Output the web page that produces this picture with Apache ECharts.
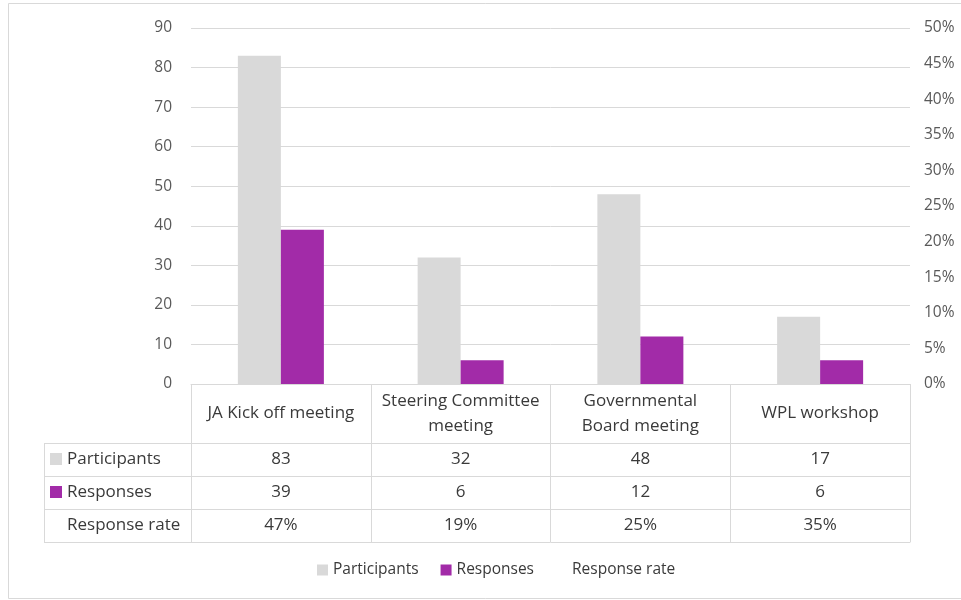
<!DOCTYPE html>
<html>
<head>
<meta charset="utf-8">
<script src="https://cdn.jsdelivr.net/npm/echarts@6/dist/echarts.min.js"></script>
<style>
html,body{margin:0;padding:0;background:#fff;}
#chart{width:961px;height:600px;}
</style>
</head>
<body>
<div id="chart"></div>
<script>
const categories = ['JA Kick off meeting', 'Steering Committee\nmeeting', 'Governmental\nBoard meeting', 'WPL workshop'];
const participants = [83, 32, 48, 17];
const responses = [39, 6, 12, 6];
const responseRate = [0.47, 0.19, 0.25, 0.35];
const leftTicks = { min: 0, max: 90, interval: 10 };
const rightTicks = { min: 0, max: 0.5, interval: 0.05 };

const FONT = '"Open Sans", sans-serif';
const GRAY = '#D9D9D9';
const PURPLE = '#A22BA8';
const LINE = '#D9D9D9';
const TXT = '#3A3A3A';
const TFS = 17;

// layout
const G = { left: 191, right: 51, top: 28, bottom: 216 };
const plotBottom = 600 - G.bottom;          // 384
const HEAD_H = 59, ROW_H = 33, TABLE_LEFT = 44;
const rowTop0 = plotBottom + HEAD_H;

function tableAxis(offset, tickLen, labels, margin, fs) {
  return {
    type: 'category', data: categories, gridIndex: 0, position: 'bottom', offset: offset,
    boundaryGap: true,
    axisLine: { show: true, onZero: false, lineStyle: { color: LINE, width: 1 } },
    axisTick: { show: tickLen > 0, length: tickLen, interval: 0, lineStyle: { color: LINE, width: 1 } },
    axisLabel: {
      show: !!labels, interval: 0, margin: margin, verticalAlign: 'middle',
      color: TXT, fontFamily: FONT, fontSize: fs, lineHeight: 25,
      formatter: labels ? (v, i) => String(labels[i]) : ''
    },
    splitLine: { show: false }
  };
}

const rateLabels = responseRate.map(v => Math.round(v * 100) + '%');

const chart = echarts.init(document.getElementById('chart'), null, { renderer: 'canvas' });
const rowNames = ['Participants', 'Responses', 'Response rate'];
const rowColors = [GRAY, PURPLE, null];

const graphics = [
  { type: 'rect', shape: { x: 8.5, y: 3.5, width: 970, height: 595 }, style: { fill: 'none', stroke: '#D9D9D9', lineWidth: 1 }, silent: true, z: -10 },
  { type: 'line', shape: { x1: TABLE_LEFT + 0.5, y1: rowTop0, x2: TABLE_LEFT + 0.5, y2: rowTop0 + 3 * ROW_H }, style: { stroke: LINE, lineWidth: 1 }, silent: true }
];
for (let r = 0; r <= 3; r++) {
  const y = Math.round(rowTop0 + r * ROW_H) + 0.5;
  graphics.push({ type: 'line', shape: { x1: TABLE_LEFT, y1: y, x2: G.left, y2: y }, style: { stroke: LINE, lineWidth: 1 }, silent: true });
}
rowNames.forEach((n, r) => {
  const cy = rowTop0 + r * ROW_H + ROW_H / 2;
  if (rowColors[r]) graphics.push({ type: 'rect', shape: { x: 50, y: cy - 6.5, width: 12, height: 12 }, style: { fill: rowColors[r] }, silent: true });
  graphics.push({ type: 'text', style: { text: n, x: 67, y: cy, verticalAlign: 'middle', fill: TXT, font: TFS + 'px ' + FONT }, silent: true });
});

chart.setOption({
  animation: false,
  backgroundColor: '#fff',
  grid: { left: G.left, right: G.right, top: G.top, bottom: G.bottom, containLabel: false },
  legend: {
    bottom: 17, left: 312,
    itemWidth: 11, itemHeight: 11, itemGap: 22,
    textStyle: { color: TXT, fontFamily: FONT, fontSize: 15.5 },
    data: [
      { name: 'Participants', icon: 'rect' },
      { name: 'Responses', icon: 'rect' },
      { name: 'Response rate', icon: 'rect', itemStyle: { opacity: 0 } }
    ]
  },
  xAxis: [
    tableAxis(0, HEAD_H, categories.map(c => c), HEAD_H / 2, TFS),
    tableAxis(HEAD_H, ROW_H, participants, ROW_H / 2, TFS),
    tableAxis(HEAD_H + ROW_H, ROW_H, responses, ROW_H / 2, TFS),
    tableAxis(HEAD_H + 2 * ROW_H, ROW_H, rateLabels, ROW_H / 2, TFS),
    tableAxis(HEAD_H + 3 * ROW_H, 0, null, 0, TFS)
  ],
  yAxis: [
    {
      type: 'value', min: leftTicks.min, max: leftTicks.max, interval: leftTicks.interval, position: 'left',
      axisLine: { show: false }, axisTick: { show: false },
      axisLabel: { color: '#595959', fontFamily: FONT, fontSize: 15.5, margin: 19 },
      splitLine: { show: true, lineStyle: { color: LINE, width: 1 } }
    },
    {
      type: 'value', min: rightTicks.min, max: rightTicks.max, interval: rightTicks.interval, position: 'right',
      axisLine: { show: false }, axisTick: { show: false },
      axisLabel: { color: '#595959', fontFamily: FONT, fontSize: 15.5, margin: 14, formatter: v => Math.round(v * 100) + '%' },
      splitLine: { show: false }
    }
  ],
  series: [
    { name: 'Participants', type: 'bar', xAxisIndex: 0, yAxisIndex: 0, data: participants, barWidth: 43, barGap: '0%', itemStyle: { color: GRAY } },
    { name: 'Responses', type: 'bar', xAxisIndex: 0, yAxisIndex: 0, data: responses, barWidth: 43, barGap: '0%', itemStyle: { color: PURPLE } },
    { name: 'Response rate', type: 'line', xAxisIndex: 0, yAxisIndex: 1, data: responseRate, symbol: 'none', lineStyle: { opacity: 0 }, itemStyle: { color: 'rgba(0,0,0,0)' } }
  ],
  graphic: graphics
});
</script>
</body>
</html>
